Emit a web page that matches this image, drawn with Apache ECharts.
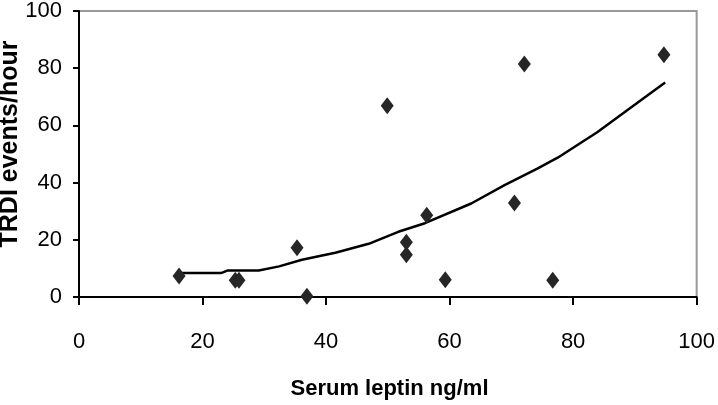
<!DOCTYPE html>
<html>
<head>
<meta charset="utf-8">
<script src="https://cdn.jsdelivr.net/npm/echarts@6/dist/echarts.min.js"></script>
<style>html,body{margin:0;padding:0;background:#fff;}#c{width:718px;height:405px;}</style>
</head>
<body>
<div id="c"></div>
<script>
var leptin = [16.2, 25.3, 25.9, 35.3, 36.9, 49.9, 53.0, 53.0, 56.3, 59.3, 70.5, 72.1, 76.7, 94.7];
var trdi   = [7.3, 5.9, 5.9, 17.2, 0.3, 66.9, 19.1, 14.8, 28.6, 6.0, 32.9, 81.5, 5.9, 84.7];
var trendX = [16.3, 23.0, 24.1, 29.1, 32.4, 36.1, 41.5, 46.9, 51.7, 56.0, 63.5, 68.9, 74.2, 77.5, 83.9, 88.7, 94.9];
var trendY = [8.35, 8.35, 9.3, 9.3, 10.7, 13.0, 15.5, 18.6, 22.8, 25.8, 32.7, 39.1, 44.9, 48.7, 57.6, 65.2, 75.0];
var xTicks = [0, 20, 40, 60, 80, 100];
var yTicks = [0, 20, 40, 60, 80, 100];
var xTitle = 'Serum leptin ng/ml';
var yTitle = 'TRDI events/hour';

var chart = echarts.init(document.getElementById('c'), null, {renderer: 'canvas'});
var tickFont = '"Liberation Sans", Arial, sans-serif';
chart.setOption({
  animation: false,
  backgroundColor: '#fff',
  grid: {left: 79, right: 18, top: 10, bottom: 108, show: true, borderColor: '#999', borderWidth: 2, backgroundColor: 'transparent'},
  xAxis: {
    type: 'value', min: xTicks[0], max: xTicks[xTicks.length - 1], interval: 20,
    axisLine: {show: true, onZero: false, lineStyle: {color: '#000', width: 2}},
    axisTick: {show: true, inside: false, length: 8, lineStyle: {color: '#000', width: 2}},
    splitLine: {show: false},
    axisLabel: {margin: 34, color: '#000', fontSize: 22, fontFamily: tickFont}
  },
  yAxis: {
    type: 'value', min: yTicks[0], max: yTicks[yTicks.length - 1], interval: 20,
    axisLine: {show: true, onZero: false, lineStyle: {color: '#000', width: 2}},
    axisTick: {show: true, inside: false, length: 6, lineStyle: {color: '#000', width: 2}},
    splitLine: {show: false},
    axisLabel: {margin: 17, color: '#000', fontSize: 22, fontFamily: tickFont}
  },
  graphic: [
    {type: 'text', x: 389.5, y: 389, z: 10,
      style: {text: xTitle, fill: '#000', font: 'bold 22px "Liberation Sans", Arial, sans-serif', align: 'center', verticalAlign: 'middle'}},
    {type: 'text', x: 10, y: 144, rotation: Math.PI / 2, z: 10,
      style: {text: yTitle, fill: '#000', font: 'bold 25px "Liberation Sans", Arial, sans-serif', align: 'center', verticalAlign: 'middle'}}
  ],
  series: [
    {type: 'line', data: trendX.map(function (x, i) { return [x, trendY[i]]; }), showSymbol: false, symbol: 'none', smooth: false,
      lineStyle: {color: '#000', width: 2.5}, z: 3},
    {type: 'scatter', data: leptin.map(function (x, i) { return [x, trdi[i]]; }), symbol: 'diamond', symbolSize: [13, 17],
      itemStyle: {color: '#262626', opacity: 1}, z: 4}
  ]
});
</script>
</body>
</html>
